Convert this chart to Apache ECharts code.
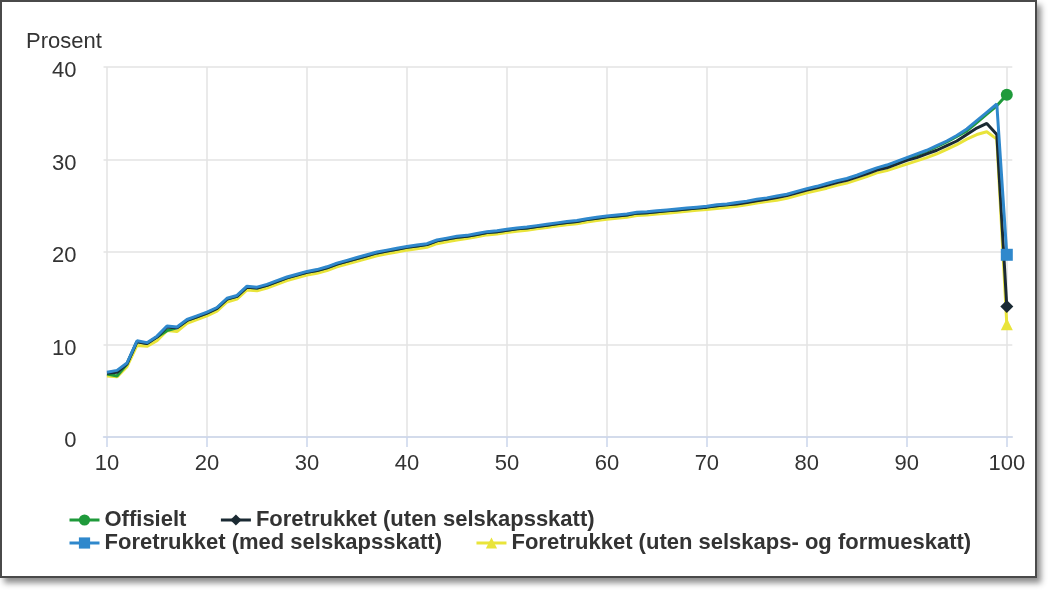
<!DOCTYPE html>
<html>
<head>
<meta charset="utf-8">
<script src="https://cdn.jsdelivr.net/npm/echarts@6/dist/echarts.min.js"></script>
<style>
html,body{margin:0;padding:0;background:#fff;}
#frame{position:absolute;left:0;top:0;width:1033px;height:574px;border:2px solid #4a4a4a;background:#fff;box-shadow:4px 5px 6px rgba(0,0,0,0.45);}
#chart{position:absolute;left:-2px;top:-2px;width:1049px;height:591px;}
</style>
</head>
<body>
<div id="frame"><div id="chart"></div></div>
<script>
// Percentile positions (x) and tick labels
const xValues = [10,11,12,13,14,15,16,17,18,19,20,21,22,23,24,25,26,27,28,29,30,31,32,33,34,35,36,37,38,39,40,41,42,43,44,45,46,47,48,49,50,51,52,53,54,55,56,57,58,59,60,61,62,63,64,65,66,67,68,69,70,71,72,73,74,75,76,77,78,79,80,81,82,83,84,85,86,87,88,89,90,91,92,93,94,95,96,97,98,99,100];
const xTicks = [10,20,30,40,50,60,70,80,90,100];
const yTicks = [0,10,20,30,40];

const seriesNames = ['Offisielt','Foretrukket (uten selskapsskatt)','Foretrukket (med selskapsskatt)','Foretrukket (uten selskaps- og formueskatt)'];

// Offisielt
const offisielt = [6.8,6.6,7.9,10.3,10.1,10.8,11.5,11.8,12.6,13.0,13.4,13.9,14.9,15.2,16.2,16.1,16.4,16.8,17.2,17.5,17.8,18.0,18.3,18.7,19.0,19.3,19.6,19.9,20.1,20.3,20.5,20.65,20.8,21.2,21.4,21.6,21.7,21.9,22.1,22.2,22.35,22.5,22.6,22.75,22.9,23.05,23.2,23.3,23.5,23.65,23.8,23.9,24.0,24.2,24.25,24.35,24.45,24.55,24.65,24.75,24.85,25.0,25.1,25.25,25.4,25.6,25.75,25.95,26.15,26.45,26.75,27.0,27.3,27.6,27.85,28.2,28.6,29.0,29.3,29.7,30.1,30.5,30.9,31.4,31.9,32.5,33.1,34.0,34.9,35.8,37.0];
// Foretrukket (uten selskapsskatt)
const utenSelskap = [6.9,7.0,7.9,10.3,10.1,10.8,11.9,11.8,12.6,13.0,13.4,13.9,14.9,15.2,16.2,16.1,16.4,16.8,17.2,17.5,17.8,18.0,18.3,18.7,19.0,19.3,19.6,19.9,20.1,20.3,20.5,20.65,20.8,21.2,21.4,21.6,21.7,21.9,22.1,22.2,22.35,22.5,22.6,22.75,22.9,23.05,23.2,23.3,23.5,23.65,23.8,23.9,24.0,24.2,24.25,24.35,24.45,24.55,24.65,24.75,24.85,25.0,25.1,25.2,25.35,25.55,25.7,25.9,26.1,26.4,26.7,26.95,27.2,27.5,27.75,28.1,28.45,28.85,29.1,29.5,29.9,30.2,30.6,31.0,31.5,32.0,32.7,33.4,33.9,32.7,14.1];
// Foretrukket (med selskapsskatt)
const medSelskap = [7.0,7.2,8.0,10.4,10.2,10.9,12.0,11.9,12.7,13.1,13.5,14.0,15.0,15.3,16.3,16.2,16.5,16.9,17.3,17.6,17.9,18.1,18.4,18.8,19.1,19.4,19.7,20.0,20.2,20.4,20.6,20.75,20.9,21.3,21.5,21.7,21.8,22.0,22.2,22.3,22.45,22.6,22.7,22.85,23.0,23.15,23.3,23.4,23.6,23.75,23.9,24.0,24.1,24.3,24.35,24.45,24.55,24.65,24.75,24.85,24.95,25.1,25.2,25.35,25.5,25.7,25.85,26.05,26.25,26.55,26.85,27.1,27.4,27.7,27.95,28.3,28.7,29.1,29.4,29.8,30.2,30.6,31.0,31.5,32.0,32.6,33.3,34.2,35.1,36.0,19.7];
// Foretrukket (uten selskaps- og formueskatt)
const utenSelskapFormue = [6.6,6.5,7.6,9.9,9.8,10.4,11.5,11.4,12.3,12.7,13.1,13.6,14.6,14.9,15.9,15.8,16.1,16.5,16.9,17.2,17.5,17.7,18.0,18.4,18.7,19.0,19.3,19.6,19.8,20.0,20.2,20.35,20.5,20.9,21.1,21.3,21.45,21.65,21.85,21.95,22.1,22.25,22.35,22.5,22.65,22.8,22.95,23.05,23.25,23.4,23.55,23.65,23.75,23.95,24.0,24.1,24.2,24.3,24.4,24.5,24.6,24.7,24.8,24.95,25.1,25.3,25.45,25.6,25.8,26.1,26.4,26.65,26.9,27.2,27.45,27.8,28.15,28.55,28.8,29.15,29.5,29.85,30.2,30.6,31.1,31.6,32.2,32.7,33.0,32.2,12.2];

const colors = ['#1f9a3b','#1b2a33','#2f88cc','#e9e43a'];
const symbols = ['circle','diamond','rect','triangle'];
const lastIdx = xValues.length - 1;

function pairs(arr){ return arr.map((v,i)=>[xValues[i], v]); }

const chart = echarts.init(document.getElementById('chart'), null, {renderer:'canvas'});
const FONT = 'Liberation Sans, Arial, Helvetica, sans-serif';
const dataSets = [offisielt, utenSelskap, medSelskap, utenSelskapFormue];
const zs = [3,4,5,2];

const series = seriesNames.map((name,k)=>({
  name: name,
  type: 'line',
  data: pairs(dataSets[k]),
  color: colors[k],
  symbol: symbols[k],
  showSymbol: true,
  symbolSize: function(val, params){ return params.dataIndex === lastIdx ? (symbols[k]==='diamond'?13:12) : 0; },
  lineStyle: {width: 3, color: colors[k]},
  itemStyle: {color: colors[k]},
  z: zs[k],
  animation: false
}));

const legendBase = {
  orient: 'horizontal',
  left: 68,
  padding: 0,
  itemGap: 33,
  itemWidth: 30,
  itemHeight: 14,
  lineStyle: {width: 3},
  textStyle: {fontFamily: FONT, fontSize: 22, fontWeight: 'bold', color: '#333'}
};

chart.setOption({
  animation: false,
  textStyle: {fontFamily: FONT},
  title: {
    text: 'Prosent', left: 26, top: 31, padding: 0,
    textStyle: {fontFamily: FONT, fontSize: 22, fontWeight: 'normal', color: '#333'}
  },
  legend: [
    Object.assign({}, legendBase, {top: 509, data: [seriesNames[0], seriesNames[1]]}),
    Object.assign({}, legendBase, {top: 532, data: [seriesNames[2], seriesNames[3]]})
  ],
  grid: {left: 103.5, right: 36.7, top: 67, bottom: 154, containLabel: false},
  xAxis: {
    type: 'value',
    min: 9.65,
    max: 100.55,
    axisLine: {show: true, lineStyle: {color: '#ccd6eb', width: 1.5}},
    axisTick: {show: true, length: 10, customValues: xTicks, lineStyle: {color: '#ccd6eb', width: 1.5}},
    axisLabel: {customValues: xTicks, fontSize: 22, color: '#333', fontFamily: FONT, margin: 16},
    splitLine: {show: true, lineStyle: {color: '#e3e3e3', width: 1.5}}
  },
  yAxis: {
    type: 'value',
    min: 0, max: 40, interval: 10,
    axisLine: {show: false},
    axisTick: {show: false},
    axisLabel: {fontSize: 22, color: '#333', fontFamily: FONT, margin: 27, verticalAlign: 'top', lineHeight: 22, padding: [-7,0,0,0]},
    splitLine: {show: true, lineStyle: {color: '#e3e3e3', width: 1.5}}
  },
  series: series
});
</script>
</body>
</html>
